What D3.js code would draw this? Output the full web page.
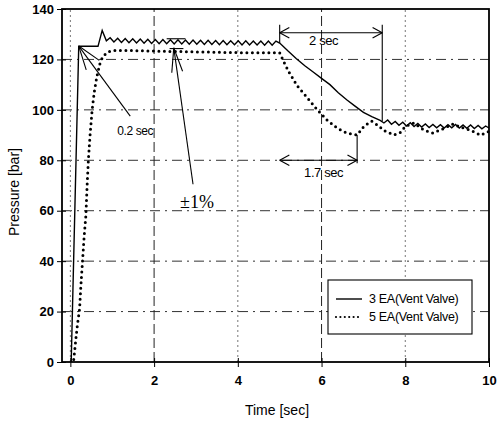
<!DOCTYPE html>
<html>
<head>
<meta charset="utf-8">
<script src="https://cdn.jsdelivr.net/npm/d3@7"></script>
<style>
body { margin: 0; background: #fff; }
svg { display: block; font-family: "Liberation Sans", Arial, sans-serif; }
</style>
</head>
<body>
<svg id="graph"></svg>
<script>
//----------data-------------
var xTicks = [0, 2, 4, 6, 8, 10];
var yTicks = [0, 20, 40, 60, 80, 100, 120, 140];
var seriesNames = ["3 EA(Vent Valve)", "5 EA(Vent Valve)"];

// 3 EA : [time, pressure]
var ea3 = [
  [0.02, 0], [0.2, 125.2], [0.66, 125.2], [0.76, 131.5], [0.86, 127.4],
  [0.95, 128.6], [1.04, 126.9], [1.13, 128.4], [1.22, 126.7], [1.31, 128.3],
  [1.40, 126.6], [1.49, 128.2], [1.58, 126.5], [1.67, 128.1], [1.76, 126.4],
  [1.85, 128.0], [1.94, 126.3], [2.03, 127.9], [2.12, 126.2], [2.21, 127.9],
  [2.30, 126.2], [2.39, 127.8], [2.48, 126.1], [2.57, 127.8], [2.66, 126.1],
  [2.75, 127.7], [2.84, 126.0], [2.93, 127.7], [3.02, 126.0], [3.11, 127.6],
  [3.20, 125.9], [3.29, 127.6], [3.38, 125.9], [3.47, 127.5], [3.56, 125.8],
  [3.65, 127.5], [3.74, 125.8], [3.83, 127.4], [3.92, 125.8], [4.01, 127.4],
  [4.10, 125.7], [4.19, 127.4], [4.28, 125.7], [4.37, 127.3], [4.46, 125.7],
  [4.55, 127.3], [4.64, 125.6], [4.73, 127.3], [4.82, 125.6], [4.91, 127.3],
  [5.00, 126.5], [5.2, 123.3], [5.4, 120.3], [5.6, 117.5], [5.8, 115],
  [6.0, 112.5], [6.2, 110], [6.4, 106.8], [6.6, 104], [6.8, 101.5],
  [7.0, 99], [7.2, 97.3], [7.40, 95.8], [7.49, 94.8], [7.58, 96.0],
  [7.67, 94.3], [7.76, 95.4], [7.85, 93.9], [7.94, 95.1], [8.03, 93.6],
  [8.12, 94.9], [8.21, 93.4], [8.30, 94.6], [8.39, 93.2], [8.48, 94.4],
  [8.57, 93.0], [8.66, 94.2], [8.75, 92.9], [8.84, 94.1], [8.93, 92.8],
  [9.02, 94.1], [9.11, 92.9], [9.20, 94.2], [9.29, 92.8], [9.38, 94.0],
  [9.47, 92.7], [9.56, 94.0], [9.65, 92.6], [9.74, 93.8], [9.83, 92.5],
  [9.92, 93.6], [10.0, 92.8]
];

// 5 EA : [time, pressure]
var ea5 = [
  [0.08, 1], [0.1, 4], [0.13, 9], [0.17, 15], [0.22, 21], [0.25, 30],
  [0.29, 40], [0.33, 50], [0.37, 58], [0.40, 70], [0.43, 80], [0.47, 90],
  [0.52, 100], [0.57, 107], [0.63, 113], [0.7, 118], [0.77, 121],
  [0.88, 122.8], [1.0, 123.5], [1.5, 123.5], [2.0, 123.3], [3.0, 123],
  [4.0, 122.7], [5.0, 122.6], [5.1, 119], [5.22, 115], [5.42, 109.5],
  [5.65, 105], [5.9, 100], [6.13, 96], [6.37, 92.8], [6.6, 90.8],
  [6.85, 90], [7.02, 93.6], [7.2, 95.5], [7.35, 93.8], [7.5, 91.7],
  [7.73, 90], [7.88, 91], [8.0, 93.4], [8.2, 94.8], [8.45, 92],
  [8.66, 90.8], [8.9, 92.5], [9.14, 94.4], [9.35, 93], [9.55, 92],
  [9.8, 90], [10.0, 91.5]
];

//---------scale---------
var screen = {width: 497, height: 422};
var margin = {left: 62, right: 8, top: 9, bottom: 60};

var svg = d3.select("#graph")
  .attr("width", screen.width)
  .attr("height", screen.height);

var xScale = d3.scaleLinear()
  .domain([-0.2, 10])
  .range([margin.left, screen.width - margin.right]);
var yScale = d3.scaleLinear()
  .domain([0, 140])
  .range([screen.height - margin.bottom, margin.top]);

var x0 = xScale.range()[0], x1 = xScale.range()[1];
var y0 = yScale.range()[0], y1 = yScale.range()[1];

//---------grid---------
svg.append("g")
  .selectAll("line")
  .data(yTicks.slice(1, -1))
  .enter()
  .append("line")
  .attr("x1", x0).attr("x2", x1)
  .attr("y1", function (d) { return yScale(d); })
  .attr("y2", function (d) { return yScale(d); })
  .attr("stroke", "#333")
  .attr("stroke-width", 1)
  .attr("stroke-dasharray", "10,5,2,5");

svg.append("g")
  .selectAll("line")
  .data(xTicks.slice(0, -1))
  .enter()
  .append("line")
  .attr("x1", function (d) { return xScale(d); })
  .attr("x2", function (d) { return xScale(d); })
  .attr("y1", y0).attr("y2", y1)
  .attr("stroke", function (d, i) { return i % 2 == 0 ? "#777" : "#222"; })
  .attr("stroke-width", 1)
  .attr("stroke-dasharray", function (d, i) { return i % 2 == 0 ? "2,3" : "10,4"; });

//---------axes---------
var yAxis = d3.axisLeft(yScale).tickValues(yTicks).tickSize(5).tickPadding(3);
var gy = svg.append("g")
  .attr("transform", "translate(" + x0 + ",0)")
  .call(yAxis);
gy.select(".domain").remove();
gy.selectAll(".tick line").attr("x1", 4).attr("stroke", "#000");
gy.selectAll(".tick text")
  .attr("font-size", 13).attr("font-weight", "bold")
  .attr("font-family", "Liberation Sans, Arial, sans-serif")
  .attr("fill", "#000");

var xAxis = d3.axisBottom(xScale).tickValues(xTicks).tickSize(5).tickPadding(9);
var gx = svg.append("g")
  .attr("transform", "translate(0," + y0 + ")")
  .call(xAxis);
gx.select(".domain").remove();
gx.selectAll(".tick line").attr("y1", -4).attr("stroke", "#000");
gx.selectAll(".tick text")
  .attr("font-size", 13).attr("font-weight", "bold")
  .attr("font-family", "Liberation Sans, Arial, sans-serif")
  .attr("fill", "#000");

svg.append("rect")
  .attr("x", x0).attr("y", y1)
  .attr("width", x1 - x0).attr("height", y0 - y1)
  .attr("fill", "none")
  .attr("stroke", "#000")
  .attr("stroke-width", 1.8);

svg.append("text")
  .attr("x", 277).attr("y", 415)
  .attr("text-anchor", "middle")
  .attr("font-size", 14)
  .text("Time [sec]");

svg.append("text")
  .attr("transform", "translate(19,192) rotate(-90)")
  .attr("text-anchor", "middle")
  .attr("font-size", 14)
  .text("Pressure [bar]");

//---------lines---------
var line = d3.line()
  .x(function (d) { return xScale(d[0]); })
  .y(function (d) { return yScale(d[1]); });

svg.append("path")
  .datum(ea3)
  .attr("d", line)
  .attr("fill", "none")
  .attr("stroke", "#000")
  .attr("stroke-width", 1.4);

svg.append("path")
  .datum(ea5)
  .attr("d", line)
  .attr("fill", "none")
  .attr("stroke", "#000")
  .attr("stroke-width", 3)
  .attr("stroke-linecap", "round")
  .attr("stroke-dasharray", "0,5.5");

//---------annotations---------
var ann = svg.append("g").attr("stroke", "#000").attr("stroke-width", 1.1).attr("fill", "none");

var seg = function (xa, ya, xb, yb) {
  ann.append("line").attr("x1", xa).attr("y1", ya).attr("x2", xb).attr("y2", yb);
};
// open arrow head at (xt,yt) pointing away from (xf,yf)
var head = function (xt, yt, xf, yf, len, ang) {
  var a = Math.atan2(yf - yt, xf - xt);
  seg(xt, yt, xt + len * Math.cos(a + ang), yt + len * Math.sin(a + ang));
  seg(xt, yt, xt + len * Math.cos(a - ang), yt + len * Math.sin(a - ang));
};

// 0.2 sec
var tipX = xScale(0.2), tipY = yScale(125.3);
var endX = xScale(1.43), endY = yScale(97.5);
seg(tipX, tipY, endX, endY);
head(tipX, tipY, endX, endY, 25, 0.33);

// +-1%
seg(xScale(2.3), yScale(128.2), xScale(2.75), yScale(128.2));
seg(xScale(2.37), yScale(124.3), xScale(2.7), yScale(124.3));
var pTipX = xScale(2.47), pTipY = yScale(124.6);
var pEndX = xScale(2.93), pEndY = yScale(70.5);
seg(pTipX, pTipY, pEndX, pEndY);
head(pTipX, pTipY, pEndX, pEndY, 25, 0.22);

// 2 sec
var aY = yScale(130.6);
seg(xScale(5), aY - 8, xScale(5), yScale(126.5));
seg(xScale(7.45), aY - 8, xScale(7.45), yScale(95.5));
seg(xScale(5), aY, xScale(7.45), aY);
head(xScale(5), aY, xScale(7.45), aY, 11, 0.5);
head(xScale(7.45), aY, xScale(5), aY, 11, 0.5);

// 1.7 sec
var bY = yScale(80);
seg(xScale(6.85), yScale(90), xScale(6.85), bY + 3);
seg(xScale(5), bY, xScale(6.85), bY);
head(xScale(5), bY, xScale(6.85), bY, 11, 0.5);
head(xScale(6.85), bY, xScale(5), bY, 11, 0.5);

var label = function (xp, yp, txt, size) {
  svg.append("text")
    .attr("x", xp).attr("y", yp)
    .attr("text-anchor", "middle")
    .attr("font-size", size)
    .attr("letter-spacing", -0.4)
    .text(txt);
};
label(xScale(1.55), yScale(90.2), "0.2 sec", 12);
label(xScale(6.05), yScale(125.6), "2 sec", 13);
label(xScale(6.05), yScale(73.5), "1.7 sec", 13);
svg.append("text")
  .attr("x", 197).attr("y", 208)
  .attr("text-anchor", "middle")
  .attr("font-size", 18)
  .attr("font-family", "Liberation Serif, Times New Roman, serif")
  .text("\u00b11%");

//---------legend---------
var legend = svg.append("g").attr("transform", "translate(328,280)");
legend.append("rect")
  .attr("width", 144).attr("height", 54)
  .attr("fill", "#fff")
  .attr("stroke", "#000")
  .attr("stroke-width", 1.1);
seriesNames.forEach(function (name, i) {
  var ly = 19 + i * 18;
  var l = legend.append("line")
    .attr("x1", 8).attr("x2", 34)
    .attr("y1", ly).attr("y2", ly)
    .attr("stroke", "#000");
  if (i == 0) {
    l.attr("stroke-width", 1.4);
  } else {
    l.attr("stroke-width", 2.2).attr("stroke-linecap", "round").attr("stroke-dasharray", "0,4.4");
  }
  legend.append("text")
    .attr("x", 41).attr("y", ly + 4)
    .attr("font-size", 12.5)
    .attr("letter-spacing", -0.3)
    .text(name);
});
</script>
</body>
</html>
